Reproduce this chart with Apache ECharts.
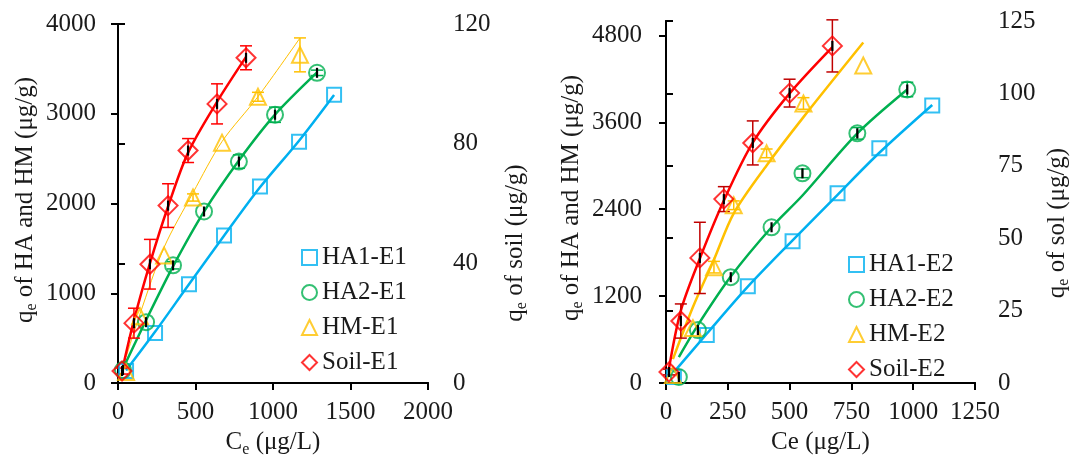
<!DOCTYPE html>
<html><head><meta charset="utf-8">
<script src="https://cdn.jsdelivr.net/npm/echarts@6/dist/echarts.min.js"></script>
<style>html,body{margin:0;padding:0;background:#fff}#c{width:1071px;height:456px}</style>
</head><body><div id="c"></div>
<script>
// ---------- data: panel E1 ----------
const xTicksE1 = [0, 500, 1000, 1500, 2000];
const yTicksE1 = [0, 1000, 2000, 3000, 4000];
const ySoilTicksE1 = [0, 40, 80, 120];
const HA1_E1_x = [52, 239, 458, 684, 916, 1168, 1394];
const HA1_E1_y = [133, 556, 1100, 1644, 2189, 2689, 3211];
const HA1_E1_fit = [140, 570, 1100, 1640, 2180, 2700, 3210];
const HA2_E1_x = [32, 181, 355, 555, 780, 1013, 1284];
const HA2_E1_y = [144, 678, 1311, 1911, 2467, 2989, 3456];
const HA2_E1_fit = [160, 700, 1300, 1910, 2480, 2990, 3460];
const HA2_E1_err = [0, 0, 40, 0, 75, 85, 30];
const HM_E1_x = [52, 142, 297, 484, 671, 903, 1174];
const HM_E1_y = [122, 744, 1422, 2067, 2678, 3189, 3656];
const HM_E1_fit = [290, 770, 1510, 2120, 2690, 3190, 3844];
const HM_E1_err = [0, 0, 0, 40, 0, 50, 189];
const Soil_E1_x = [26, 103, 206, 323, 452, 639, 826];
const Soil_E1_y = [4, 20, 39.7, 59.3, 77.7, 93.3, 108.7];
const Soil_E1_fit = [4, 21, 40, 59, 77, 94, 109];
const Soil_E1_err = [1, 5, 8.3, 7.3, 4, 6.7, 4];
// ---------- data: panel E2 ----------
const xTicksE2 = [0, 250, 500, 750, 1000, 1250];
const yTicksE2 = [0, 1200, 2400, 3600, 4800];
const ySoilTicksE2 = [0, 25, 50, 75, 100, 125];
const HA1_E2_x = [32, 165, 331, 512, 694, 863, 1077];
const HA1_E2_y = [83, 662, 1338, 1958, 2620, 3241, 3834];
const HA1_E2_fit = [150, 680, 1330, 1970, 2600, 3180, 3840];
const HA2_E2_x = [52, 129, 262, 427, 552, 774, 976];
const HA2_E2_y = [83, 731, 1462, 2151, 2896, 3448, 4054];
const HA2_E2_fit = [359, 800, 1470, 2151, 2590, 3448, 4054];
const HA2_E2_err = [0, 0, 0, 0, 60, 80, 100];
const HM_E2_x = [28, 109, 194, 274, 407, 556, 798];
const HM_E2_y = [110, 758, 1600, 2455, 3172, 3861, 4385];
const HM_E2_fit = [330, 1050, 1704, 2344, 3005, 3672, 4702];
const HM_E2_err = [0, 0, 80, 60, 60, 80, 0];
const Soil_E2_x = [12, 60, 137, 234, 351, 500, 673];
const Soil_E2_y = [3.8, 21.4, 43.2, 63.5, 82.9, 100.1, 116.4];
const Soil_E2_fit = [5, 25, 43, 63, 83, 100, 116];
const Soil_E2_err = [1, 5.9, 12.3, 4.3, 7.6, 4.8, 9];

// ---------- styling ----------
const FONT = 'Liberation Serif';
const TXT = '#1a1a1a';
const BLUE = '#00B0F0', GREEN = '#00B050', YELLOW = '#FFC000', RED = '#FF0000', DRED = '#C00000';

const pairs = (xs, ys) => xs.map((x, i) => [x, ys[i]]);
const triples = (xs, ys, es) => xs.map((x, i) => [x, ys[i], es[i]]).filter(d => d[2] > 0);

function scatter(name, xs, ys, sym, size, color, xi, yi) {
  return { type: 'scatter', name, data: pairs(xs, ys), symbol: sym, symbolSize: size,
    xAxisIndex: xi, yAxisIndex: yi, z: 6,
    itemStyle: { color: 'rgba(255,255,255,0)', borderColor: color, borderWidth: 2 } };
}
function fitLine(name, xs, ys, color, w, xi, yi) {
  return { type: 'line', name, data: pairs(xs, ys), smooth: 0.3, symbol: 'none', showSymbol: false,
    xAxisIndex: xi, yAxisIndex: yi, z: 3, lineStyle: { color, width: w }, itemStyle: { color } };
}
function errBars(xs, ys, es, color, xi, yi) {
  return { type: 'custom', xAxisIndex: xi, yAxisIndex: yi, z: 4, data: triples(xs, ys, es),
    encode: { x: 0, y: 1 },
    renderItem: (params, api) => {
      const x = api.value(0), y = api.value(1), e = api.value(2);
      const a = api.coord([x, y + e]), b = api.coord([x, y - e]);
      const w = 6, st = { stroke: color, lineWidth: 1.5 };
      return { type: 'group', children: [
        { type: 'line', shape: { x1: a[0], y1: a[1], x2: b[0], y2: b[1] }, style: st },
        { type: 'line', shape: { x1: a[0] - w, y1: a[1], x2: a[0] + w, y2: a[1] }, style: st },
        { type: 'line', shape: { x1: b[0] - w, y1: b[1], x2: b[0] + w, y2: b[1] }, style: st }
      ] };
    } };
}
function blackMarks(xs, ys, xi, yi) {
  return { type: 'custom', xAxisIndex: xi, yAxisIndex: yi, z: 7, data: pairs(xs, ys),
    encode: { x: 0, y: 1 },
    renderItem: (params, api) => {
      const p = api.coord([api.value(0), api.value(1)]);
      return { type: 'line', shape: { x1: p[0], y1: p[1] - 5, x2: p[0], y2: p[1] + 5 },
        style: { stroke: '#000', lineWidth: 2.2 } };
    } };
}

const axLine = { show: true, lineStyle: { color: '#000', width: 2 } };
const axTick = { show: true, length: 7, lineStyle: { color: '#000', width: 2 } };
const fmt = ticks => (v => (ticks.indexOf(v) >= 0 ? String(v) : ''));
const lbl = (margin, extra) => Object.assign({ fontFamily: FONT, fontSize: 25, color: TXT, margin,
  showMinLabel: true, showMaxLabel: true }, extra || {});
const subRich = {
  a: { fontFamily: FONT, fontSize: 25, color: TXT, fill: TXT, lineHeight: 30 },
  s: { fontFamily: FONT, fontSize: 16, color: TXT, fill: TXT, lineHeight: 16, verticalAlign: 'bottom' }
};

function xAx(grid, min, max, interval, name, ticks) {
  return { type: 'value', gridIndex: grid, min, max, interval, position: 'bottom',
    axisLine: axLine, axisTick: axTick, splitLine: { show: false },
    axisLabel: lbl(17, { interval: 0, customValues: ticks, formatter: fmt(ticks) }),
    name, nameLocation: 'middle', nameGap: 41, nameTextStyle: { rich: subRich } };
}
function xTop(grid, min, max) {
  return { type: 'value', gridIndex: grid, min, max, position: 'top',
    axisLine: axLine, axisTick: { show: false }, axisLabel: { show: false }, splitLine: { show: false } };
}
function yAx(grid, pos, min, max, interval, margin, ticks) {
  return { type: 'value', gridIndex: grid, position: pos, min, max, interval,
    axisLine: axLine, axisTick: Object.assign({ customValues: ticks }, axTick), splitLine: { show: false },
    axisLabel: lbl(margin, { customValues: ticks, formatter: fmt(ticks) }) };
}

const legendBase = { orient: 'vertical', itemWidth: 15, itemHeight: 15, itemGap: 10, itemTextGap: 5,
  selectedMode: false, textStyle: { fontFamily: FONT, fontSize: 25, color: TXT, lineHeight: 25 } };

function yName(text, x, y) {
  return { type: 'text', x, y, rotation: Math.PI / 2,
    style: { text, rich: subRich, align: 'center', verticalAlign: 'middle', fill: TXT } };
}

const option = {
  backgroundColor: '#fff',
  animation: false,
  grid: [
    { left: 118, right: 643, top: 24, bottom: 73, containLabel: false, outerBoundsMode: 'none' },
    { left: 666, right: 96, top: 21, bottom: 73, containLabel: false, outerBoundsMode: 'none' }
  ],
  xAxis: [
    xAx(0, 0, 2000, 500, '{a|C}{s|e}{a| (μg/L)}', xTicksE1),
    xTop(0, 0, 2000),
    xAx(1, 0, 1250, 250, '{a|Ce (μg/L)}', xTicksE2),
    xTop(1, 0, 1250)
  ],
  yAxis: [
    yAx(0, 'left', 0, 4000, 1000, 22, yTicksE1),
    yAx(0, 'right', 0, 120, 40, 25, ySoilTicksE1),
    yAx(1, 'left', 0, 5000, 1200, 24, yTicksE2),
    yAx(1, 'right', 0, 125, 25, 23, ySoilTicksE2)
  ],
  legend: [
    Object.assign({ left: 296, top: 240, data: ['HA1-E1', 'HA2-E1', 'HM-E1', 'Soil-E1'] }, legendBase),
    Object.assign({ left: 843, top: 247, data: ['HA1-E2', 'HA2-E2', 'HM-E2', 'Soil-E2'] }, legendBase)
  ],
  graphic: [
    yName('{a|q}{s|e}{a| of HA and HM (μg/g)}', 25, 200),
    yName('{a|q}{s|e}{a| of soil (μg/g)}', 515, 243),
    yName('{a|q}{s|e}{a| of HA and HM (μg/g)}', 571, 198),
    yName('{a|q}{s|e}{a| of sol (μg/g)}', 1057, 223)
  ],
  series: [
    // E1
    fitLine('HA1-E1 fit', HA1_E1_x, HA1_E1_fit, BLUE, 2.5, 0, 0),
    fitLine('HA2-E1 fit', HA2_E1_x, HA2_E1_fit, GREEN, 2.5, 0, 0),
    fitLine('HM-E1 fit', HM_E1_x, HM_E1_fit, YELLOW, 1, 0, 0),
    fitLine('Soil-E1 fit', Soil_E1_x, Soil_E1_fit, RED, 2.5, 0, 1),
    errBars(HA2_E1_x, HA2_E1_y, HA2_E1_err, GREEN, 0, 0),
    errBars(HM_E1_x, HM_E1_y, HM_E1_err, YELLOW, 0, 0),
    errBars(Soil_E1_x, Soil_E1_y, Soil_E1_err, RED, 0, 1),
    scatter('HA1-E1', HA1_E1_x, HA1_E1_y, 'rect', 14, BLUE, 0, 0),
    scatter('HA2-E1', HA2_E1_x, HA2_E1_y, 'circle', 16, GREEN, 0, 0),
    scatter('HM-E1', HM_E1_x, HM_E1_y, 'triangle', 16, YELLOW, 0, 0),
    scatter('Soil-E1', Soil_E1_x, Soil_E1_y, 'diamond', 19, RED, 0, 1),
    blackMarks(HA2_E1_x, HA2_E1_y, 0, 0),
    blackMarks(Soil_E1_x, Soil_E1_y, 0, 1),
    // E2
    fitLine('HA1-E2 fit', HA1_E2_x, HA1_E2_fit, BLUE, 2.5, 2, 2),
    fitLine('HA2-E2 fit', HA2_E2_x, HA2_E2_fit, GREEN, 2.5, 2, 2),
    fitLine('HM-E2 fit', HM_E2_x, HM_E2_fit, YELLOW, 2.5, 2, 2),
    fitLine('Soil-E2 fit', Soil_E2_x, Soil_E2_fit, RED, 2.5, 2, 3),
    errBars(HA2_E2_x, HA2_E2_y, HA2_E2_err, GREEN, 2, 2),
    errBars(HM_E2_x, HM_E2_y, HM_E2_err, YELLOW, 2, 2),
    errBars(Soil_E2_x, Soil_E2_y, Soil_E2_err, DRED, 2, 3),
    scatter('HA1-E2', HA1_E2_x, HA1_E2_y, 'rect', 14, BLUE, 2, 2),
    scatter('HA2-E2', HA2_E2_x, HA2_E2_y, 'circle', 16, GREEN, 2, 2),
    scatter('HM-E2', HM_E2_x, HM_E2_y, 'triangle', 16, YELLOW, 2, 2),
    scatter('Soil-E2', Soil_E2_x, Soil_E2_y, 'diamond', 19, RED, 2, 3),
    blackMarks(HA2_E2_x, HA2_E2_y, 2, 2),
    blackMarks(Soil_E2_x, Soil_E2_y, 2, 3)
  ]
};
const chart = echarts.init(document.getElementById('c'), null, { renderer: 'canvas' });
chart.setOption(option);
</script></body></html>
